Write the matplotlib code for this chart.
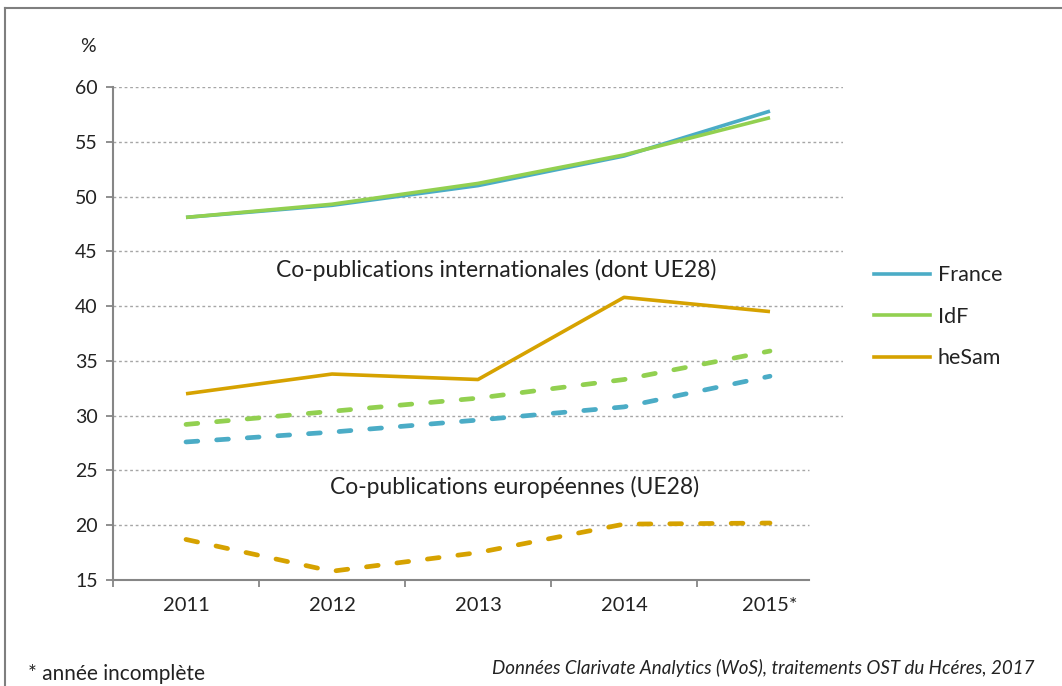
import matplotlib
matplotlib.use("Agg")
import matplotlib.pyplot as plt
from matplotlib.lines import Line2D

years = ["2011", "2012", "2013", "2014", "2015*"]
yticks = [15, 20, 25, 30, 35, 40, 45, 50, 55, 60]

intl_france = [48.1, 49.2, 51.0, 53.7, 57.8]
intl_idf = [48.1, 49.3, 51.2, 53.8, 57.2]
intl_hesam = [32.0, 33.8, 33.3, 40.8, 39.5]

eu_france = [27.6, 28.5, 29.6, 30.8, 33.6]
eu_idf = [29.2, 30.4, 31.6, 33.3, 35.9]
eu_hesam = [18.7, 15.8, 17.5, 20.1, 20.2]

series_names = ["France", "IdF", "heSam"]
colors = {"France": "#4BACC6", "IdF": "#92D050", "heSam": "#D6A200"}

FONT = "Lato"
plt.rcParams["font.family"] = [FONT, "DejaVu Sans"]

fig = plt.figure(figsize=(10.62, 6.86), dpi=100)
ax = fig.add_axes([113/1062, 1-580/686, (843-113)/1062, (580-87)/686])

x = list(range(len(years)))
xend = 4.27

# gridlines
for v in yticks[1:]:
    xm = 4.5 if v >= 30 else xend
    ax.plot([-0.5, xm], [v, v], color="#A6A6A6", lw=1.0, ls=(0, (2, 2)), zorder=1)

dash = (0, (2.5, 4.0))
for name, data in zip(series_names, [intl_france, intl_idf, intl_hesam]):
    ax.plot(x, data, color=colors[name], lw=2.6, solid_capstyle="butt", zorder=3)
for name, data in zip(series_names, [eu_france, eu_idf, eu_hesam]):
    ax.plot(x, data, color=colors[name], lw=3.4, ls=dash, dash_capstyle="round", zorder=3)

ax.set_xlim(-0.5, 4.5)
ax.set_ylim(15, 60)
ax.set_yticks(yticks)
ax.set_yticklabels([str(v) for v in yticks], fontsize=14, color="#222222")
ax.set_xticks([-0.5, 0.5, 1.5, 2.5, 3.5])
ax.set_xticklabels([])
ax.set_xticks(x, minor=True)
ax.set_xticklabels(years, minor=True, fontsize=14.5, color="#222222")
ax.tick_params(axis="x", which="minor", length=0, pad=12)
ax.tick_params(axis="x", which="major", length=5, width=1.3, color="#868686", direction="out")
ax.tick_params(axis="y", length=5, width=1.3, color="#868686", direction="out", pad=6)

for s in ["top", "right"]:
    ax.spines[s].set_visible(False)
for s in ["left", "bottom"]:
    ax.spines[s].set_color("#868686")
    ax.spines[s].set_linewidth(1.5)
ax.spines["bottom"].set_bounds(-0.5, xend)

ax.text(2.125, 43.3, "Co-publications internationales (dont UE28)", ha="center", va="center",
        fontsize=16.5, color="#222222")
ax.text(2.25, 23.5, "Co-publications européennes (UE28)", ha="center", va="center",
        fontsize=16.5, color="#222222")

fig.text(88/1062, 1-47/686, "%", ha="center", va="center", fontsize=14, color="#222222")

handles = [Line2D([0], [0], color=colors[n], lw=2.6) for n in series_names]
leg = fig.legend(handles, series_names, loc="upper left", bbox_to_anchor=(855/1062, 1-246/686),
                 frameon=False, fontsize=15.5, handlelength=2.6, labelspacing=1.0, handletextpad=0.35)
for t in leg.get_texts():
    t.set_color("#222222")

fig.text(28/1062, 1-674/686, "* année incomplète", ha="left", va="center", fontsize=15, color="#222222")
fig.text(1035/1062, 1-668/686, "Données Clarivate Analytics (WoS), traitements OST du Hcéres, 2017",
         ha="right", va="center", fontsize=13.5, style="italic", color="#222222")

# frame lines
fig.add_artist(Line2D([5/1062, 5/1062], [0, 1-8/686], color="#7F7F7F", lw=1.5))
fig.add_artist(Line2D([5/1062, 1], [1-8/686, 1-8/686], color="#7F7F7F", lw=1.5))

fig.savefig("out.png", dpi=100)
